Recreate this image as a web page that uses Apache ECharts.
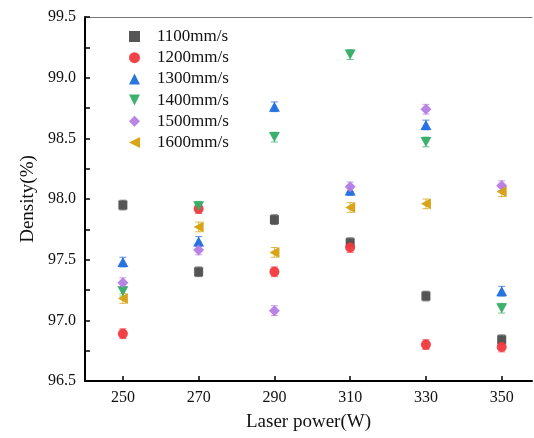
<!DOCTYPE html>
<html>
<head>
<meta charset="utf-8">
<script src="https://cdn.jsdelivr.net/npm/echarts@6/dist/echarts.min.js"></script>
<style>html,body{margin:0;padding:0;background:#fff}#c{width:534px;height:438px}</style>
</head>
<body>
<div id="c"></div>
<script>
const laserPower = [250, 270, 290, 310, 330, 350];
const seriesNames = ['1100mm/s', '1200mm/s', '1300mm/s', '1400mm/s', '1500mm/s', '1600mm/s'];
const d1100 = [97.95, 97.40, 97.83, 97.64, 97.20, 96.84];
const d1200 = [96.89, 97.92, 97.40, 97.60, 96.80, 96.78];
const d1300 = [97.48, 97.65, 98.76, 98.07, 98.61, 97.24];
const d1400 = [97.24, 97.94, 98.51, 99.19, 98.47, 97.10];
const d1500 = [97.31, 97.58, 97.08, 98.10, 98.74, 98.11];
const d1600 = [97.18, 97.77, 97.56, 97.93, 97.96, 98.06];
const err = [0.04, 0.04, 0.04, 0.04, 0.04, 0.04];
const yTicks = [96.5, 97.0, 97.5, 98.0, 98.5, 99.0, 99.5];

const allData = [d1100, d1200, d1300, d1400, d1500, d1600];
const colors = ['#4d4d4d', '#f0393e', '#1f6be0', '#35ad66', '#b57de3', '#d6a00c'];
const symbols = [
  'rect',
  'circle',
  'path://M1,0 L2,2 L0,2 Z',
  'path://M0,0 L2,0 L1,2 Z',
  'path://M1,0 L2,1 L1,2 L0,1 Z',
  'path://M2,0 L2,2 L0,1 Z'
];
const sizes = [9, 10, [11, 10], [11, 10], 11, [10, 11]];

const series = [];
allData.forEach((arr, i) => {
  series.push({
    type: 'custom',
    name: seriesNames[i] + '_err',
    z: 1,
    silent: true,
    data: laserPower.map((x, j) => [x, arr[j] - err[j], arr[j] + err[j]]),
    renderItem: function (params, api) {
      const lo = api.coord([api.value(0), api.value(1)]);
      const hi = api.coord([api.value(0), api.value(2)]);
      const w = 3.5;
      const st = { stroke: colors[i], lineWidth: 1, opacity: 0.75 };
      return {
        type: 'group',
        children: [
          { type: 'line', shape: { x1: lo[0], y1: lo[1], x2: hi[0], y2: hi[1] }, style: st },
          { type: 'line', shape: { x1: lo[0] - w, y1: lo[1], x2: lo[0] + w, y2: lo[1] }, style: st },
          { type: 'line', shape: { x1: hi[0] - w, y1: hi[1], x2: hi[0] + w, y2: hi[1] }, style: st }
        ]
      };
    }
  });
  series.push({
    type: 'scatter',
    name: seriesNames[i],
    z: 2,
    symbol: symbols[i],
    symbolSize: sizes[i],
    itemStyle: { color: colors[i], opacity: 0.95 },
    data: laserPower.map((x, j) => [x, arr[j]])
  });
});

const font = 'Liberation Serif, Times New Roman, serif';
const chart = echarts.init(document.getElementById('c'), null, { renderer: 'canvas' });
chart.setOption({
  animation: false,
  backgroundColor: '#fff',
  textStyle: { fontFamily: font },
  grid: { left: 85, right: 2, top: 17, bottom: 57, containLabel: false },
  legend: {
    data: seriesNames,
    orient: 'vertical',
    left: 124,
    top: 23,
    itemWidth: 11,
    itemHeight: 11,
    itemGap: 4.2,
    textStyle: { fontFamily: font, fontSize: 17, color: '#111', padding: [0, 0, 0, 12] }
  },
  xAxis: [{
    type: 'value',
    min: 240,
    max: 358,
    name: 'Laser power(W)',
    nameLocation: 'middle',
    nameGap: 32,
    nameTextStyle: { fontFamily: font, fontSize: 19, color: '#111' },
    axisLine: { show: true, lineStyle: { color: '#000', width: 2 } },
    axisTick: { show: true, inside: true, length: 5, customValues: laserPower, lineStyle: { color: '#000', width: 1.5 } },
    axisLabel: { customValues: laserPower, fontFamily: font, fontSize: 16, color: '#111', margin: 9 },
    splitLine: { show: false }
  }, {
    type: 'value',
    position: 'top',
    min: 240,
    max: 358,
    axisLine: { show: true, lineStyle: { color: '#777', width: 1 } },
    axisTick: { show: false },
    axisLabel: { show: false },
    splitLine: { show: false }
  }],
  yAxis: {
    type: 'value',
    min: 96.5,
    max: 99.5,
    interval: 0.5,
    name: 'Density(%)',
    nameLocation: 'middle',
    nameGap: 47,
    nameRotate: 90,
    nameTextStyle: { fontFamily: font, fontSize: 19, color: '#111' },
    axisLine: { show: true, lineStyle: { color: '#000', width: 2 } },
    axisTick: { show: true, inside: true, length: 5, lineStyle: { color: '#000', width: 1.5 } },
    minorTick: { show: true, splitNumber: 2, length: 5, lineStyle: { color: '#000', width: 1.5 } },
    axisLabel: {
      fontFamily: font, fontSize: 16, color: '#111', margin: 9,
      formatter: v => (yTicks.includes(Math.round(v * 10) / 10) ? v.toFixed(1) : '')
    },
    splitLine: { show: false }
  },
  series: series
});
</script>
</body>
</html>
